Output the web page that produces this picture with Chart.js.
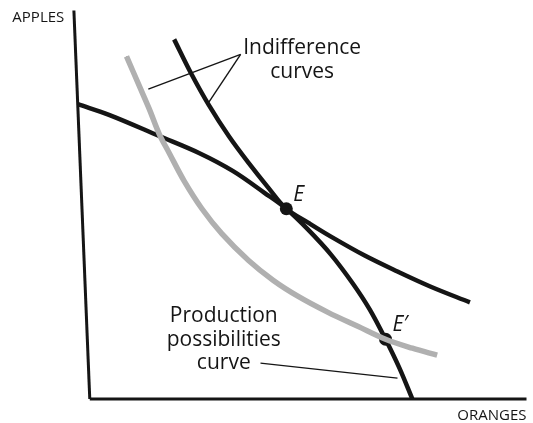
<!DOCTYPE html>
<html>
<head>
<meta charset="utf-8">
<script src="https://cdn.jsdelivr.net/npm/chart.js@4.4.1/dist/chart.umd.min.js"></script>
<style>
  html, body { margin: 0; padding: 0; background: #fff; }
  canvas { display: block; }
</style>
</head>
<body>
<canvas id="ppc-graph" width="533" height="423"></canvas>
<script>
// values in chart units (oranges on x, apples on y)
var ppcOranges = [-3, 5, 17.5, 27.5, 36, 44, 49.5, 55, 60.75, 66.25, 70.5, 74.5, 78, 81.25];
var ppcApples  = [74, 71.25, 66, 61.75, 57.25, 51.75, 47.75, 42.5, 36.25, 29, 22.5, 15, 7.75, 0];

var icHighOranges = [21.25, 25.5, 30, 35, 40, 45, 49.5, 55, 60.75, 69.25, 77.5, 85.75, 95.75];
var icHighApples  = [90.25, 81.75, 73.75, 66, 59.25, 53, 47.75, 44.25, 40.75, 36, 32, 28.25, 24.25];

var icLowOranges = [9.25, 12.5, 15, 17.5, 20, 23.75, 28.25, 33.25, 40, 46.25, 52.5, 60, 67.5, 74.5, 81.25, 87.5];
var icLowApples  = [86, 78.5, 72.75, 66.5, 61.75, 54.75, 47.75, 41.5, 34.75, 29.75, 25.75, 21.75, 18.25, 15, 12.75, 11];

var pointNames   = ['E', 'E′'];
var pointOranges = [49.5, 74.5];
var pointApples  = [47.75, 15];

// the hand drawn axes (the apples axis leans a little)
var axisOranges = [-4, 0, 110];
var axisApples  = [97.5, 0, 0];

var axisTitles = ['APPLES', 'ORANGES'];
var icLabel  = ['Indifference', 'curves'];
var ppcLabel = ['Production', 'possibilities', 'curve'];

function pts(xs, ys) {
	return xs.map(function (x, i) { return {x: x, y: ys[i]}; });
}

function lineSet(data, color, width, extra) {
	var ds = {
		data: data,
		borderColor: color,
		borderWidth: width,
		pointRadius: 0,
		fill: false,
		tension: 0.35,
		clip: false
	};
	for (var k in extra) ds[k] = extra[k];
	return ds;
}

var ink = '#151515';

var datasets = [
	lineSet(pts(icLowOranges, icLowApples), '#b0b0b0', 5.5),
	lineSet(pts(icLowOranges, icLowApples), 'rgba(60,60,60,0.5)', 1.2, {borderDash: [3, 4]}),
	lineSet(pts(ppcOranges, ppcApples), ink, 4.5),
	lineSet(pts(icHighOranges, icHighApples), ink, 4.5),
	lineSet(pts(axisOranges.slice(0, 2), axisApples.slice(0, 2)), ink, 3, {tension: 0}),
	lineSet(pts(axisOranges.slice(1), axisApples.slice(1)), ink, 3, {tension: 0}),
	// pointer lines for the labels
	lineSet(pts([38, 14.75], [86.5, 77.75]), ink, 1.4, {tension: 0}),
	lineSet(pts([38, 30], [86.5, 74.5]), ink, 1.4, {tension: 0}),
	lineSet(pts([43, 77.5], [9, 5.25]), ink, 1.4, {tension: 0}),
	{
		data: pts(pointOranges, pointApples),
		showLine: false,
		pointRadius: 6.5,
		pointBackgroundColor: ink,
		pointBorderWidth: 0,
		clip: false
	}
];

// where each label sits, in chart units
var labels = [
	{text: axisTitles[0], x: -19.5, y: 94.5, font: '15px "Open Sans"', align: 'left'},
	{text: axisTitles[1], x: 110, y: -5.25, font: '15px "Open Sans"', align: 'right'},
	{text: icLabel[0], x: 53.5, y: 86.5, font: '21px "Open Sans"', align: 'center'},
	{text: icLabel[1], x: 53.5, y: 80.5, font: '21px "Open Sans"', align: 'center'},
	{text: ppcLabel[0], x: 33.75, y: 19.25, font: '21px "Open Sans"', align: 'center'},
	{text: ppcLabel[1], x: 33.75, y: 13.25, font: '21px "Open Sans"', align: 'center'},
	{text: ppcLabel[2], x: 33.75, y: 7.5, font: '21px "Open Sans"', align: 'center'},
	{text: pointNames[0], x: 51.25, y: 49.75, font: 'italic 21px "Open Sans"', align: 'left'},
	{text: pointNames[1], x: 76.25, y: 17, font: 'italic 21px "Open Sans"', align: 'left'}
];

var textPlugin = {
	id: 'texts',
	afterDatasetsDraw: function (chart) {
		var ctx = chart.ctx;
		var sx = chart.scales.x, sy = chart.scales.y;
		ctx.save();
		ctx.fillStyle = ink;
		ctx.textBaseline = 'alphabetic';
		labels.forEach(function (l) {
			ctx.font = l.font;
			ctx.textAlign = l.align;
			ctx.fillText(l.text, sx.getPixelForValue(l.x), sy.getPixelForValue(l.y));
		});
		ctx.restore();
	}
};

var ctx = document.getElementById('ppc-graph');
var ppcChart = new Chart(ctx, {
	type: 'line',
	data: { datasets: datasets },
	options: {
		responsive: false,
		animation: false,
		layout: { padding: {left: 60, right: 3, top: 5, bottom: 18} },
		scales: {
			x: { type: 'linear', min: -7.5, max: 110, display: false },
			y: { type: 'linear', min: -1.5, max: 98.5, display: false }
		},
		plugins: {
			legend: { display: false },
			tooltip: { enabled: false }
		}
	},
	plugins: [textPlugin]
});
</script>
</body>
</html>
